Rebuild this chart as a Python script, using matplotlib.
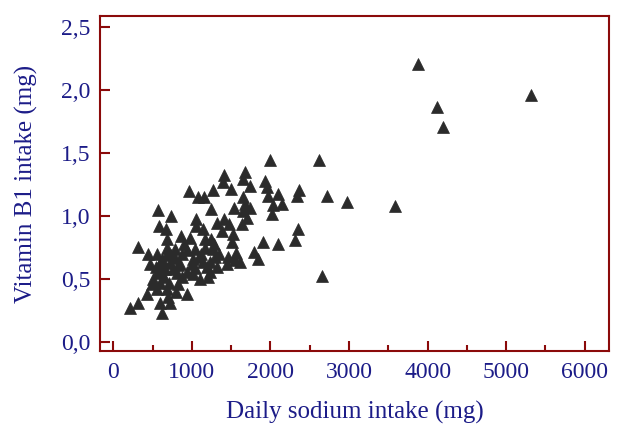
import matplotlib
matplotlib.use('Agg')
import matplotlib.pyplot as plt
from matplotlib.ticker import FuncFormatter, MultipleLocator

# Colours / fonts
FRAME_COLOR = '#8b0a0a'
TEXT_COLOR = '#1c1c88'
MARKER_COLOR = '#2b2b2b'
TICK_FONT_SIZE = 17
LABEL_FONT_SIZE = 18

plt.rcParams['font.family'] = ['Liberation Serif', 'DejaVu Serif']

# Data
sodium_mg = [
    1990, 2615, 1410, 1675, 1395, 1500, 1650, 1740, 1930, 1955,
    1270, 965, 1080, 1155, 2360, 2335, 2720, 2970, 1650, 1970,
    2095, 2030, 2145, 1675, 1740, 1535, 1245, 2020, 570, 735,
    1055, 1320, 1410, 1475, 1640, 1700, 585, 675, 865, 980,
    1145, 1170, 685, 2350, 2310, 2095, 1905, 1525, 1510, 1285,
    1270, 320, 445, 560, 685, 690, 940, 1040, 1170, 1295,
    1460, 1560, 1790, 1840, 1550, 1450, 1610, 470, 595, 725,
    850, 1015, 1230, 1320, 1195, 1040, 940, 1015, 815, 660,
    560, 510, 595, 710, 825, 1105, 1205, 2655, 560, 685,
    800, 430, 940, 320, 215, 595, 725, 620, 700, 495,
    875, 790, 1090, 1230, 1650, 1055,
    540, 620, 760, 880, 1000, 650, 900, 1120, 780, 1350,
    1140, 600, 730, 830, 1250, 1380,
    3875, 4125, 4190, 5320, 3580,
]
vitamin_b1_mg = [
    1.45, 1.45, 1.33, 1.35, 1.27, 1.22, 1.30, 1.24, 1.28, 1.23,
    1.21, 1.20, 1.15, 1.15, 1.21, 1.16, 1.16, 1.11, 1.15, 1.16,
    1.18, 1.09, 1.10, 1.10, 1.07, 1.07, 1.06, 1.02, 1.05, 1.00,
    0.98, 0.95, 0.98, 0.94, 0.94, 0.99, 0.92, 0.90, 0.84, 0.83,
    0.90, 0.82, 0.82, 0.90, 0.81, 0.78, 0.80, 0.86, 0.80, 0.78,
    0.74, 0.76, 0.70, 0.70, 0.75, 0.70, 0.73, 0.74, 0.75, 0.68,
    0.68, 0.71, 0.72, 0.66, 0.65, 0.62, 0.64, 0.62, 0.63, 0.63,
    0.62, 0.66, 0.64, 0.60, 0.60, 0.59, 0.56, 0.54, 0.55, 0.58,
    0.55, 0.50, 0.47, 0.47, 0.46, 0.50, 0.52, 0.53, 0.42, 0.42,
    0.40, 0.38, 0.38, 0.31, 0.27, 0.31, 0.31, 0.23, 0.36, 0.46,
    0.70, 0.67, 0.68, 0.56, 1.04, 0.92,
    0.60, 0.66, 0.58, 0.52, 0.62, 0.52, 0.78, 0.70, 0.74, 0.70,
    0.64, 0.57, 0.69, 0.61, 0.82, 0.88,
    2.21, 1.87, 1.71, 1.96, 1.08,
]

x_ticks = [0, 1000, 2000, 3000, 4000, 5000, 6000]
y_ticks = [0.0, 0.5, 1.0, 1.5, 2.0, 2.5]

fig = plt.figure(figsize=(6.28, 4.24), dpi=100)
ax = fig.add_axes([0.159, 0.172, 0.811, 0.790])

ax.plot(sodium_mg, vitamin_b1_mg, linestyle='none', marker='^',
        markersize=8, color=MARKER_COLOR, markeredgecolor=MARKER_COLOR,
        markeredgewidth=0.5)

ax.set_xlim(-170, 6310)
ax.set_ylim(-0.07, 2.59)
ax.set_xticks(x_ticks)
ax.set_yticks(y_ticks)
ax.xaxis.set_minor_locator(MultipleLocator(500))
ax.yaxis.set_major_formatter(FuncFormatter(lambda v, p: f'{v:.1f}'.replace('.', ',')))

for side in ['left', 'right', 'top', 'bottom']:
    ax.spines[side].set_color(FRAME_COLOR)
    ax.spines[side].set_linewidth(1.5)

ax.tick_params(axis='both', which='both', direction='in', color=FRAME_COLOR,
               labelcolor=TEXT_COLOR, labelsize=TICK_FONT_SIZE, width=1.5)
ax.tick_params(axis='both', which='major', length=7, pad=8)
ax.tick_params(axis='y', which='major', pad=7)
ax.tick_params(axis='x', which='minor', length=4)

ax.set_xlabel('Daily sodium intake (mg)', fontsize=LABEL_FONT_SIZE,
              color=TEXT_COLOR, labelpad=13)
ax.set_ylabel('Vitamin B1 intake (mg)', fontsize=LABEL_FONT_SIZE,
              color=TEXT_COLOR, labelpad=16)

fig.savefig('out.png', dpi=100)
